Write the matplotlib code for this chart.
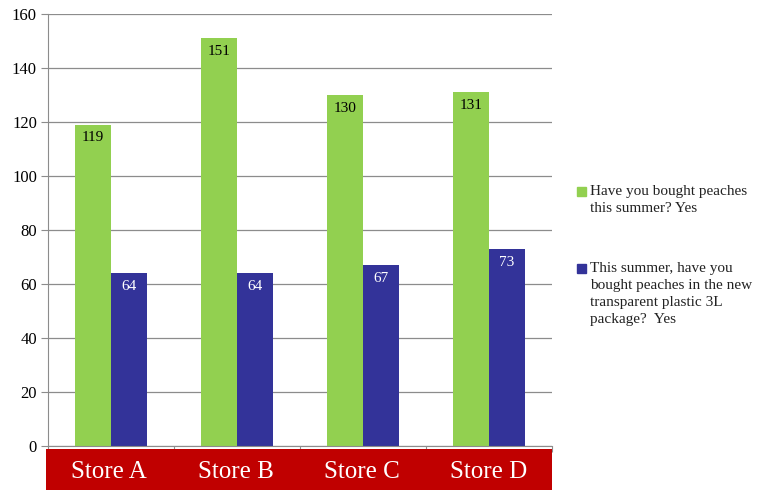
import matplotlib.pyplot as plt
import matplotlib.patches as mpatches
import numpy as np

plt.rcParams['font.family'] = ['Liberation Serif', 'DejaVu Serif']

stores = ['Store A', 'Store B', 'Store C', 'Store D']
bought_any = [119, 151, 130, 131]
bought_3l = [64, 64, 67, 73]
legend_labels = ['Have you bought peaches\nthis summer? Yes',
                 'This summer, have you\nbought peaches in the new\ntransparent plastic 3L\npackage?  Yes']

green = '#92D050'
blue = '#333399'
red = '#C00000'
grey = '#8C8C8C'

fig = plt.figure(figsize=(7.58, 4.90), dpi=100)
ax = fig.add_axes([48/758, 1-446/490, 504/758, 432/490])

x = np.arange(len(stores))
w = 36/126
b1 = ax.bar(x - w/2, bought_any, w, color=green)
b2 = ax.bar(x + w/2, bought_3l, w, color=blue)

for bars, col in ((b1, 'black'), (b2, 'white')):
    for r in bars:
        ax.text(r.get_x() + r.get_width()/2, r.get_height() - 2.5, str(int(r.get_height())),
                ha='center', va='top', fontsize=11, color=col)

ax.set_xlim(-0.5, len(stores) - 0.5)
ax.set_ylim(0, 160)
ax.set_yticks(range(0, 161, 20))
ax.yaxis.grid(True, color=grey, linewidth=0.9)
ax.set_axisbelow(True)
ax.set_xticks(np.arange(-0.5, len(stores)), labels=[])
ax.tick_params(axis='x', length=4, color=grey)
ax.tick_params(axis='y', length=5, color=grey, labelsize=12, pad=3)
for s in ['top', 'right']:
    ax.spines[s].set_visible(False)
ax.spines['left'].set_color(grey)
ax.spines['bottom'].set_color(grey)

# red category band
band = fig.add_axes([46/758, 0, 506/758, 41/490])
band.set_facecolor(red)
band.set_xlim(-0.5, len(stores) - 0.5)
band.set_ylim(0, 1)
band.set_xticks([])
band.set_yticks([])
for s in band.spines.values():
    s.set_visible(False)
for i, s in enumerate(stores):
    band.text(i, 0.45, s, ha='center', va='center', color='white', fontsize=18)

# legend, drawn by hand so the marker sits on the first line
for top, col, lab in ((186, green, legend_labels[0]), (263, blue, legend_labels[1])):
    fig.patches.append(mpatches.Rectangle((577/758, 1-(top+10)/490), 9/758, 9/490,
                                          color=col, transform=fig.transFigure))
    fig.text(590/758, 1-(top-1)/490, lab, ha='left', va='top', fontsize=11,
             linespacing=1.4, color='#222222')

fig.savefig('out.png', dpi=100)
